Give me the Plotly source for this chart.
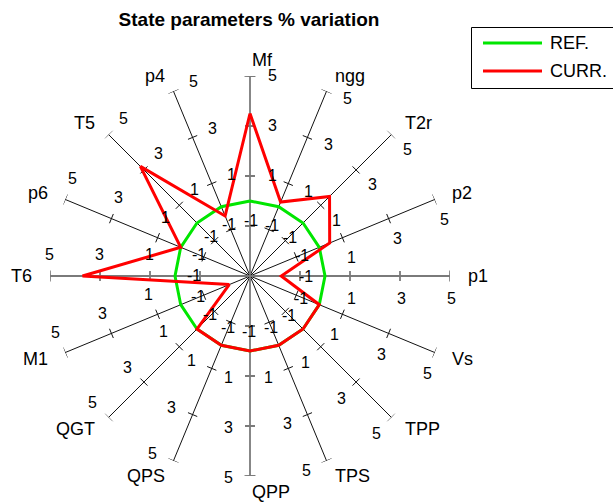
import numpy as np
import plotly.graph_objects as go

# ---- data -------------------------------------------------------------
axis_names = ["Mf", "ngg", "T2r", "p2", "p1", "Vs", "TPP", "TPS",
              "QPP", "QPS", "QGT", "M1", "T6", "p6", "T5", "p4"]
ref_values = [0, 0, 0, 0, 0, 0, 0, 0, 0, 0, 0, 0, 0, 0, 0, 0]
curr_values = [3.5, 0.2, 1.5, 0.45, -1.75, 0, 0, 0,
               0, 0, 0, -2.1, 3.7, 0, 3.2, -0.4]
tick_values = [-1, 1, 3, 5]
r_min, r_max = -3, 5
series_names = ["REF.", "CURR."]

# ---- layout geometry (pixels) ------------------------------------------
W, H = 613, 504
CX, CY = 250, 276          # centre of the star, from top-left
PLOT_R = 200               # pixel radius of the r_max circle
SCALE = PLOT_R / (r_max - r_min)   # pixels per unit
FONT = "Liberation Sans, Arial, sans-serif"

n = len(axis_names)
angles = [90 - 360.0 / n * i for i in range(n)]   # math degrees, clockwise from top


def offset_vec(r_px, theta, perp_px):
    """Cartesian offset (in units) of a point r_px along the spoke,
    shifted perp_px to the clockwise side of it."""
    t = np.radians(theta)
    dx, dy = np.cos(t), np.sin(t)
    px, py = np.sin(t), -np.cos(t)
    return ((r_px * dx + perp_px * px) / SCALE,
            (r_px * dy + perp_px * py) / SCALE)


def offset_point(r_px, theta, perp_px):
    vx, vy = offset_vec(r_px, theta, perp_px)
    return np.hypot(vx, vy) + r_min, np.degrees(np.arctan2(vy, vx))


fig = go.Figure()

# spokes with their tick marks and end caps
for aligned in (False, True):
    rs, ths = [], []
    for th in angles:
        is_aligned = abs(np.sin(np.radians(th) * 2)) < 1e-6
        if is_aligned != aligned:
            continue
        rs += [r_min, r_max, None]
        ths += [th, th, None]
        for tv in tick_values:
            rp = (tv - r_min) * SCALE
            h = 5.5 if tv == r_max else 5
            a = offset_point(rp, th, -h)
            b = offset_point(rp, th, h)
            rs += [a[0], b[0], None]
            ths += [a[1], b[1], None]
    fig.add_trace(go.Scatterpolar(
        r=rs, theta=ths, mode="lines", hoverinfo="skip", showlegend=False,
        cliponaxis=False,
        line=dict(color="#7a7a7a" if aligned else "#111111",
                  width=1.8 if aligned else 1)))

# data series
series_colors = ["#00e600", "#ff0000"]
for label, vals, col in zip(series_names, [ref_values, curr_values], series_colors):
    fig.add_trace(go.Scatterpolar(
        r=vals + vals[:1], theta=angles + angles[:1], mode="lines",
        name=label, showlegend=False, hoverinfo="skip", cliponaxis=False,
        line=dict(color=col, width=3)))

# hidden cartesian frame sharing the centre and scale, for the labels
fig.add_trace(go.Scatter(x=[0], y=[0], mode="markers", hoverinfo="skip",
                         showlegend=False, marker=dict(size=1, opacity=0)))

# tick labels beside every spoke
for th in angles:
    for tv in tick_values:
        x, y = offset_vec((tv - r_min) * SCALE + 1, th, 22)
        fig.add_annotation(x=x, y=y, xref="x", yref="y", text=str(tv),
                           showarrow=False, xanchor="center", yanchor="middle",
                           font=dict(family=FONT, size=16, color="#000000"))

# axis names at the end of each spoke
for name, th in zip(axis_names, angles):
    right_side = np.cos(np.radians(th)) > -1e-6
    x, y = offset_vec(216, th, 0)
    fig.add_annotation(x=x, y=y, xref="x", yref="y", text=name,
                       showarrow=False, xanchor="left" if right_side else "right",
                       yanchor="middle",
                       font=dict(family=FONT, size=18, color="#000000"))

fig.update_layout(
    width=W, height=H,
    margin=dict(l=0, r=0, t=0, b=0),
    paper_bgcolor="white", plot_bgcolor="rgba(0,0,0,0)",
    xaxis=dict(range=[-CX / SCALE, (W - CX) / SCALE], visible=False,
               domain=[0, 1], fixedrange=True),
    yaxis=dict(range=[-(H - CY) / SCALE, CY / SCALE], visible=False,
               domain=[0, 1], fixedrange=True),
    polar=dict(
        domain=dict(x=[(CX - PLOT_R) / W, (CX + PLOT_R) / W],
                    y=[1 - (CY + PLOT_R) / H, 1 - (CY - PLOT_R) / H]),
        bgcolor="rgba(0,0,0,0)",
        radialaxis=dict(range=[r_min, r_max], visible=False),
        angularaxis=dict(visible=False, rotation=0, direction="counterclockwise"),
    ),
    title=dict(text="<b>State parameters % variation</b>",
               x=249 / W, y=1 - 19 / H, xanchor="center", yanchor="middle",
               font=dict(family=FONT, size=19, color="#000000")),
)

# legend box
lx0, ly0, ly1 = 471.5, 27.5, 88.5
fig.add_shape(type="rect", xref="paper", yref="paper",
              x0=lx0 / W, x1=1.05, y0=1 - ly1 / H, y1=1 - ly0 / H,
              line=dict(color="#000000", width=1), fillcolor="white")
for i, (label, col) in enumerate(zip(series_names, series_colors)):
    yy = 1 - (43 + 28 * i) / H
    fig.add_shape(type="line", xref="paper", yref="paper",
                  x0=483 / W, x1=542 / W, y0=yy, y1=yy,
                  line=dict(color=col, width=3))
    fig.add_annotation(x=548 / W, y=yy, xref="paper", yref="paper",
                       text=label, showarrow=False, xanchor="left", yanchor="middle",
                       font=dict(family=FONT, size=18, color="#000000"))

fig.write_html("out.html")
